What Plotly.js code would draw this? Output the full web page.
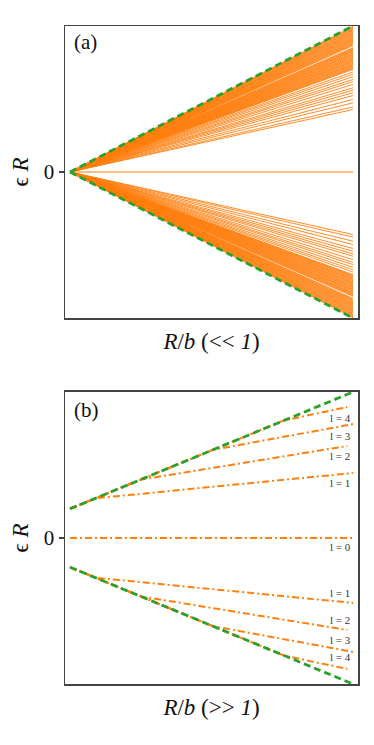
<!DOCTYPE html>
<html>
<head>
<meta charset="utf-8">
<script src="https://cdn.plot.ly/plotly-3.0.1.min.js"></script>
<style>
  body { margin: 0; background: #fff; }
  #chart { width: 374px; height: 745px; }
</style>
</head>
<body>
<div id="chart"></div>
<script>
// panel (a): end values of the fan lines, read at R/b = 1
const fanX = [0, 1];
const fanUpper = [
  0.428, 0.446, 0.474, 0.497, 0.524, 0.543, 0.561, 0.577, 0.600, 0.619, 0.634, 0.653, 0.670, 0.685,
  0.703, 0.709, 0.714, 0.720, 0.727, 0.733, 0.738, 0.744, 0.751, 0.757, 0.762, 0.768, 0.775,
  0.781, 0.786, 0.792, 0.799, 0.805, 0.810, 0.816, 0.823, 0.829, 0.834, 0.840, 0.846, 0.852,
  0.866, 0.872, 0.878, 0.884, 0.890, 0.896, 0.902, 0.908, 0.914, 0.920, 0.926, 0.932,
  0.938, 0.944, 0.950, 0.956, 0.962, 0.968, 0.974, 0.980, 0.986, 0.992, 0.998
];
const fanLower = [
  -0.428, -0.446, -0.474, -0.497, -0.524, -0.543, -0.561, -0.577, -0.600, -0.619, -0.634, -0.653, -0.670, -0.685,
  -0.703, -0.709, -0.714, -0.720, -0.727, -0.733, -0.738, -0.744, -0.751, -0.757, -0.762, -0.768, -0.775,
  -0.781, -0.786, -0.792, -0.799, -0.805, -0.810, -0.816, -0.823, -0.829, -0.834, -0.840, -0.846, -0.852,
  -0.866, -0.872, -0.878, -0.884, -0.890, -0.896, -0.902, -0.908, -0.914, -0.920, -0.926, -0.932,
  -0.938, -0.944, -0.950, -0.956, -0.962, -0.968, -0.974, -0.980, -0.986, -0.992, -0.998
];
const boundA = [1, -1];

// panel (b): bounds and l levels
const boundBX = [0, 1];
const boundBUpper = [0.2, 1.0];
const boundBLower = [-0.2, -1.0];
const levelNames = ['l = 0', 'l = 1', 'l = 2', 'l = 3', 'l = 4'];
const levelX = [
  [0, 1],
  [0, 0.09, 1.0],
  [0, 0.25, 0.98],
  [0, 0.505, 1.0],
  [0, 0.756, 0.98]
];
const levelUpper = [
  [0, 0],
  [0.2, 0.272, 0.445],
  [0.2, 0.40, 0.63],
  [0.2, 0.604, 0.78],
  [0.2, 0.805, 0.897]
];
const levelLower = [
  [0, 0],
  [-0.2, -0.272, -0.445],
  [-0.2, -0.40, -0.63],
  [-0.2, -0.604, -0.78],
  [-0.2, -0.805, -0.897]
];
const labelUpperY = [-0.06, 0.38, 0.56, 0.70, 0.82];
const labelLowerY = [null, -0.377, -0.56, -0.70, -0.815];
const labelX = 0.955;

const ORANGE = '#ff7f0e';
const GREEN = '#2ca02c';
const FRAME = '#444';

// fan as one trace with gaps
function fanTrace(ends) {
  const x = [], y = [];
  ends.forEach(v => {
    x.push(fanX[0], fanX[1], null);
    y.push(0, v, null);
  });
  return {
    x, y, xaxis: 'x', yaxis: 'y', type: 'scatter', mode: 'lines',
    line: { color: ORANGE, width: 0.9 }, hoverinfo: 'skip'
  };
}

const traces = [];
traces.push(fanTrace(fanUpper));
traces.push(fanTrace(fanLower));
traces.push({
  x: fanX, y: [0, 0], xaxis: 'x', yaxis: 'y', type: 'scatter', mode: 'lines',
  line: { color: ORANGE, width: 1.2 }
});
boundA.forEach(v => {
  traces.push({
    x: fanX, y: [0, v], xaxis: 'x', yaxis: 'y', type: 'scatter', mode: 'lines',
    line: { color: GREEN, width: 2.8, dash: '7px,4px' }
  });
});

levelX.forEach((xs, i) => {
  const sides = i === 0 ? [levelUpper[i]] : [levelUpper[i], levelLower[i]];
  sides.forEach(ys => {
    traces.push({
      x: xs, y: ys, xaxis: 'x2', yaxis: 'y2', type: 'scatter', mode: 'lines',
      line: { color: ORANGE, width: 2, dash: '7px,3px,2px,3px' }
    });
  });
});
[boundBUpper, boundBLower].forEach(ys => {
  traces.push({
    x: boundBX, y: ys, xaxis: 'x2', yaxis: 'y2', type: 'scatter', mode: 'lines',
    line: { color: GREEN, width: 2.8, dash: '7px,4px' }
  });
});

const annotations = [
  { text: '(a)', xref: 'x', yref: 'y', x: 0.008, y: 0.89, xanchor: 'left', yanchor: 'middle',
    showarrow: false, font: { size: 21, color: '#111' } },
  { text: '(b)', xref: 'x2', yref: 'y2', x: 0.008, y: 0.877, xanchor: 'left', yanchor: 'middle',
    showarrow: false, font: { size: 21, color: '#111' } }
];
levelNames.forEach((name, i) => {
  [labelUpperY[i], labelLowerY[i]].forEach(ly => {
    if (ly === null) return;
    annotations.push({
      text: name, xref: 'x2', yref: 'y2', x: labelX, y: ly, xanchor: 'center', yanchor: 'middle',
      showarrow: false, font: { size: 11, color: '#333' }
    });
  });
});

function xAxis(anchor, title) {
  return {
    anchor, domain: [0, 1], range: [-0.0177, 1.0177],
    showticklabels: false, ticks: '', showgrid: false, zeroline: false,
    showline: true, mirror: true, linecolor: FRAME, linewidth: 1.5,
    title: { text: title, font: { size: 23, color: '#111' }, standoff: 14 }
  };
}
function yAxis(anchor, domain) {
  return {
    anchor, domain, range: [-1, 1],
    tickvals: [0], ticktext: ['0'], ticks: 'outside', ticklen: 5, tickwidth: 1.2,
    tickcolor: FRAME, tickfont: { size: 21, color: '#111' },
    showgrid: false, zeroline: false,
    showline: true, mirror: true, linecolor: FRAME, linewidth: 1.5,
    title: { text: 'ϵ <i>R</i>', font: { size: 23, color: '#111' }, standoff: 8 }
  };
}

const layout = {
  width: 374, height: 745,
  margin: { l: 65, r: 16, t: 26, b: 61 },
  paper_bgcolor: '#fff', plot_bgcolor: '#fff',
  font: { family: '"Liberation Serif", "DejaVu Serif", serif', color: '#111' },
  showlegend: false,
  xaxis: xAxis('y', '<i>R</i>/<i>b</i> (&lt;&lt; <i>1</i>)'),
  yaxis: yAxis('x', [0.5562, 1]),
  xaxis2: xAxis('y2', '<i>R</i>/<i>b</i> (&gt;&gt; <i>1</i>)'),
  yaxis2: yAxis('x2', [0, 0.4438]),
  annotations
};

Plotly.newPlot('chart', traces, layout, { displayModeBar: false, staticPlot: true });
</script>
</body>
</html>
